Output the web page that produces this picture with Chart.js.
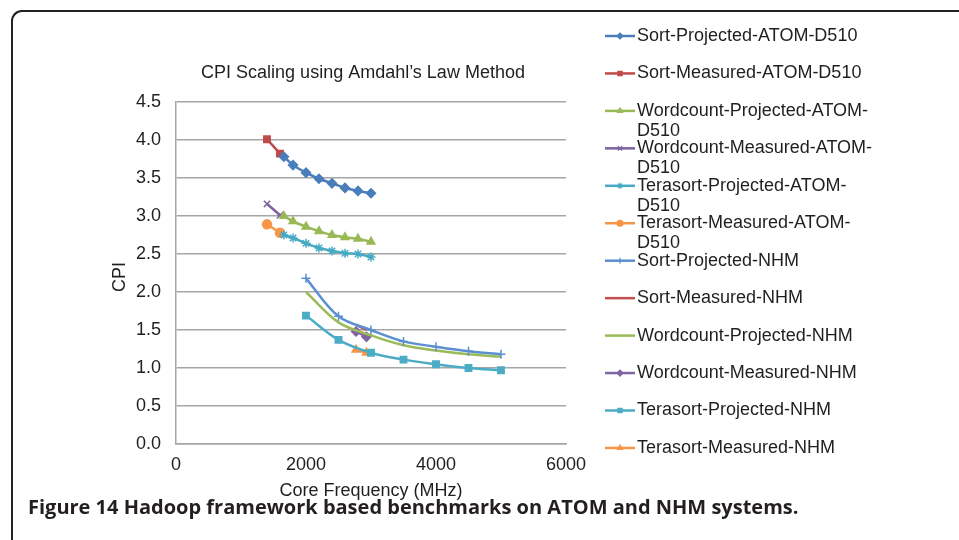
<!DOCTYPE html>
<html>
<head>
<meta charset="utf-8">
<script src="https://cdn.jsdelivr.net/npm/chart.js@4.4.1/dist/chart.umd.min.js"></script>
<style>
  html, body { margin: 0; padding: 0; background: #fff; }
  #wrap { position: relative; width: 959px; height: 540px; overflow: hidden; }
  #frame {
    position: absolute; left: 11px; top: 10px; width: 1100px; height: 700px;
    border-top: 2px solid #222; border-left: 2px solid #222; border-top-left-radius: 11px;
  }
  #chart { position: absolute; left: 0; top: 0; }
  #caption {
    position: absolute; left: 28px; top: 493px; line-height: 24px;
    font: bold 20px "Open Sans", sans-serif; color: #231f20; white-space: nowrap;
  }
</style>
</head>
<body>
<div id="wrap">
  <div id="frame"></div>
  <canvas id="chart" width="959" height="540"></canvas>
  <div id="caption">Figure 14 Hadoop framework based benchmarks on ATOM and NHM systems.</div>
</div>
<script>
// frequencies (MHz)
const atomMeasFreq = [1400, 1600];
const atomProjFreq = [1660, 1800, 2000, 2200, 2400, 2600, 2800, 3000];
const nhmProjFreq = [2000, 2500, 3000, 3500, 4000, 4500, 5000];
const nhmMeasFreq = [2770, 2930];

// CPI values
const sortProjAtom = [3.78, 3.67, 3.57, 3.49, 3.43, 3.37, 3.33, 3.30];
const sortMeasAtom = [4.01, 3.82];
const wcProjAtom = [3.00, 2.93, 2.86, 2.80, 2.75, 2.72, 2.70, 2.66];
const wcMeasAtom = [3.16, 3.01];
const tsProjAtom = [2.75, 2.71, 2.64, 2.58, 2.54, 2.51, 2.50, 2.46];
const tsMeasAtom = [2.89, 2.78];
const sortProjNhm = [2.18, 1.68, 1.50, 1.35, 1.28, 1.22, 1.18];
const sortMeasNhm = [1.57, 1.50];
const wcProjNhm = [2.00, 1.60, 1.43, 1.30, 1.23, 1.18, 1.15];
const wcMeasNhm = [1.48, 1.41];
const tsProjNhm = [1.69, 1.37, 1.20, 1.11, 1.05, 1.00, 0.97];
const tsMeasNhm = [1.24, 1.20];

const seriesNames = [
    'Sort-Projected-ATOM-D510', 'Sort-Measured-ATOM-D510',
    'Wordcount-Projected-ATOM-D510', 'Wordcount-Measured-ATOM-D510',
    'Terasort-Projected-ATOM-D510', 'Terasort-Measured-ATOM-D510',
    'Sort-Projected-NHM', 'Sort-Measured-NHM',
    'Wordcount-Projected-NHM', 'Wordcount-Measured-NHM',
    'Terasort-Projected-NHM', 'Terasort-Measured-NHM'
];
const seriesColors = ['#4a7ebb', '#be4b48', '#98b954', '#7d60a0', '#46aac5', '#f79646',
                      '#5b8fd0', '#c0504d', '#9bbb59', '#8064a2', '#4bacc6', '#f79646'];
const seriesMarkers = ['rectRot', 'rect', 'triangle', 'crossRot', 'star', 'circle',
                       'cross', false, false, 'rectRot', 'rect', 'triangle'];

const seriesPoints = [
    [atomProjFreq, sortProjAtom], [atomMeasFreq, sortMeasAtom],
    [atomProjFreq, wcProjAtom], [atomMeasFreq, wcMeasAtom],
    [atomProjFreq, tsProjAtom], [atomMeasFreq, tsMeasAtom],
    [nhmProjFreq, sortProjNhm], [nhmMeasFreq, sortMeasNhm],
    [nhmProjFreq, wcProjNhm], [nhmMeasFreq, wcMeasNhm],
    [nhmProjFreq, tsProjNhm], [nhmMeasFreq, tsMeasNhm]
];

function pts(xs, ys) {
    return xs.map((x, i) => ({ x: x, y: ys[i] }));
}

const TEXT = '#1f1f1f';
const FONT = '"Liberation Sans", Arial, sans-serif';

const datasets = seriesNames.map((name, i) => ({
    label: name,
    data: pts(seriesPoints[i][0], seriesPoints[i][1]),
    borderColor: seriesColors[i],
    backgroundColor: seriesColors[i],
    pointBackgroundColor: seriesColors[i],
    pointBorderColor: seriesColors[i],
    pointStyle: seriesMarkers[i] || 'circle',
    pointRadius: seriesMarkers[i] ? 4.5 : 0,
    pointBorderWidth: 1.5,
    borderWidth: 2.5,
    tension: 0.35,
    fill: false
}));

function wrapLabel(ctx, text, maxW) {
    if (ctx.measureText(text).width <= maxW) return [text];
    let cut = text.lastIndexOf('-');
    while (cut > 0 && ctx.measureText(text.slice(0, cut + 1)).width > maxW) {
        cut = text.lastIndexOf('-', cut - 1);
    }
    return [text.slice(0, cut + 1), text.slice(cut + 1)];
}

// title, axis titles and the wrapped legend on the right
const decorations = {
    id: 'decorations',
    afterDraw(chart) {
        const ctx = chart.ctx;
        const area = chart.chartArea;
        ctx.save();
        ctx.fillStyle = TEXT;
        ctx.font = '18px ' + FONT;
        ctx.textBaseline = 'middle';
        ctx.textAlign = 'center';
        ctx.fillText('CPI Scaling using Amdahl\u2019s Law Method', 363, 73);
        ctx.fillText('Core Frequency (MHz)', (area.left + area.right) / 2, 491);
        ctx.save();
        ctx.translate(120, 277);
        ctx.rotate(-Math.PI / 2);
        ctx.fillText('CPI', 0, 0);
        ctx.restore();

        ctx.textAlign = 'left';
        chart.data.datasets.forEach((ds, i) => {
            const y = 36 + i * 37.45;
            ctx.strokeStyle = ds.borderColor;
            ctx.lineWidth = 2.5;
            ctx.beginPath();
            ctx.moveTo(605, y);
            ctx.lineTo(635, y);
            ctx.stroke();
            if (seriesMarkers[i]) {
                ctx.fillStyle = ds.borderColor;
                ctx.lineWidth = 1.2;
                Chart.helpers.drawPoint(ctx, { pointStyle: seriesMarkers[i], radius: 3, borderWidth: 1.2, rotation: 0 }, 620, y);
            }
            ctx.fillStyle = TEXT;
            const lines = wrapLabel(ctx, ds.label, 245);
            lines.forEach((ln, k) => ctx.fillText(ln, 637, y + k * 20));
        });
        ctx.restore();
    }
};

new Chart(document.getElementById('chart'), {
    type: 'line',
    data: { datasets: datasets },
    plugins: [decorations],
    options: {
        responsive: false,
        animation: false,
        layout: { padding: { left: 0, right: 393, top: 102, bottom: 0 } },
        plugins: {
            legend: { display: false },
            title: { display: false },
            tooltip: { enabled: false }
        },
        scales: {
            x: {
                type: 'linear',
                min: 0,
                max: 6000,
                ticks: { stepSize: 2000, color: TEXT, font: { family: FONT, size: 18 }, padding: 10, maxRotation: 0,
                         callback: v => String(v) },
                grid: { display: false, drawTicks: false },
                border: { color: '#a6a6a6', width: 1.5 },
                afterFit: s => { s.height = 96; }
            },
            y: {
                min: 0,
                max: 4.5,
                ticks: { stepSize: 0.5, color: TEXT, font: { family: FONT, size: 18 }, padding: 15,
                         callback: v => v.toFixed(1) },
                grid: { color: '#a6a6a6', lineWidth: 1.5, drawTicks: false },
                border: { color: '#a6a6a6', width: 1.5 },
                afterFit: s => { s.width = 176; }
            }
        }
    }
});
</script>
</body>
</html>
